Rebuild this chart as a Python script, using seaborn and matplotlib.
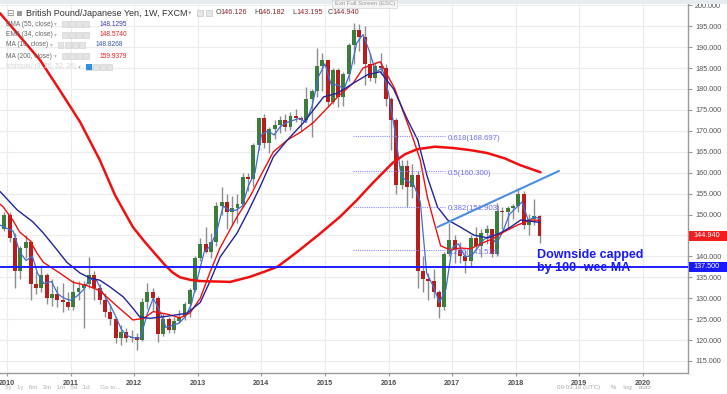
import numpy as np
import pandas as pd
import matplotlib
matplotlib.use('Agg')
import matplotlib.pyplot as plt
from matplotlib.patches import Rectangle
import seaborn as sns

# Monthly candles (GBP/JPY), Dec 2009 .. May 2018
months = pd.date_range('2009-12-01', '2018-05-01', freq='MS')
opens = [146.5,
         150.0, 144.5, 136.5, 142.0, 143.5, 133.5, 132.5, 135.5, 130.0, 131.0, 129.5, 129.0,
         127.8, 131.5, 132.5, 133.5, 135.5, 132.5, 129.5, 126.8, 125.0, 120.5, 122.0, 120.5,
         120.8, 120.0, 129.0, 131.5, 130.0, 121.5, 125.0, 122.5, 124.5, 125.5, 128.5, 132.0,
         139.5, 143.0, 141.0, 143.5, 152.0, 153.0, 150.5, 151.5, 152.5, 159.0, 158.5, 166.5,
         173.0, 167.0, 170.5, 171.5, 172.5, 171.0, 173.5, 173.0, 172.5, 177.5, 179.5, 185.5,
         186.8, 177.0, 184.5, 178.0, 183.5, 190.5, 194.0, 192.5, 186.0, 182.5, 185.5, 185.0,
         177.5, 172.5, 157.0, 161.5, 156.5, 159.5, 136.5, 134.5, 134.0, 131.5, 128.0, 140.5,
         144.0, 141.5, 140.0, 139.0, 144.5, 142.5, 145.5, 146.5, 140.5, 150.8, 150.5, 151.5,
         152.0, 155.0, 147.5, 149.0, 149.7]
highs = [150.6,
         150.5, 145.5, 142.5, 145.0, 144.0, 136.5, 137.9, 136.0, 134.5, 133.0, 133.6, 131.5,
         134.3, 134.0, 134.0, 139.8, 136.5, 133.5, 131.2, 128.5, 125.5, 123.5, 123.0, 122.5,
         121.6, 130.0, 133.6, 132.5, 130.5, 126.4, 125.5, 125.5, 127.2, 129.0, 132.5, 140.0,
         144.5, 147.0, 145.5, 153.0, 156.6, 155.0, 154.5, 155.0, 160.0, 159.8, 167.0, 173.3,
         174.0, 171.0, 172.5, 173.5, 174.0, 174.5, 175.2, 173.5, 180.5, 180.0, 189.8, 188.5,
         187.0, 185.0, 185.0, 184.0, 191.0, 195.8, 195.5, 195.0, 188.6, 186.5, 188.5, 186.0,
         178.0, 173.0, 163.0, 163.0, 162.0, 160.5, 140.0, 136.0, 137.0, 132.0, 141.0, 148.0,
         145.0, 143.5, 141.5, 145.0, 147.0, 146.5, 147.5, 146.5, 152.7, 151.8, 152.0, 152.5,
         156.3, 155.5, 150.2, 153.8, 150.0]
lows = [146.0,
        143.5, 132.5, 134.5, 139.5, 129.5, 131.0, 131.5, 128.5, 128.2, 127.8, 126.6, 127.2,
        127.3, 129.5, 122.8, 132.5, 129.5, 128.5, 125.5, 123.5, 119.3, 118.8, 119.5, 119.5,
        117.6, 119.8, 127.5, 127.0, 119.5, 121.0, 121.6, 121.8, 124.0, 124.8, 125.5, 131.5,
        139.0, 140.8, 139.5, 142.5, 150.0, 146.5, 147.5, 148.0, 152.0, 155.5, 156.5, 165.5,
        166.0, 164.7, 168.0, 169.5, 170.0, 170.2, 172.0, 170.0, 172.0, 168.5, 178.0, 179.5,
        175.8, 176.5, 175.7, 176.0, 182.0, 186.0, 189.0, 181.0, 182.0, 181.5, 183.5, 176.0,
        165.5, 155.0, 156.0, 151.8, 154.0, 132.5, 131.5, 129.5, 130.0, 125.2, 127.2, 140.0,
        138.5, 138.5, 136.0, 137.5, 141.5, 139.8, 143.0, 139.8, 140.2, 146.5, 146.5, 149.0,
        150.5, 146.5, 145.0, 147.5, 143.2]
closes = [150.0,
          144.5, 136.5, 142.0, 143.5, 133.5, 132.5, 135.5, 130.0, 131.0, 129.5, 129.0, 127.8,
          131.5, 132.5, 133.5, 135.5, 132.5, 129.5, 126.8, 125.0, 120.5, 122.0, 120.5, 120.8,
          120.0, 129.0, 131.5, 130.0, 121.5, 125.0, 122.5, 124.5, 125.5, 128.5, 132.0, 139.5,
          143.0, 141.0, 143.5, 152.0, 153.0, 150.5, 151.5, 152.5, 159.0, 158.5, 166.5, 173.0,
          167.0, 170.5, 171.5, 172.5, 171.0, 173.5, 173.0, 172.5, 177.5, 179.5, 185.5, 186.8,
          177.0, 184.5, 178.0, 183.5, 190.5, 194.0, 192.5, 186.0, 182.5, 185.5, 185.0, 177.5,
          172.5, 157.0, 161.5, 156.5, 159.5, 136.5, 134.5, 134.0, 131.5, 128.0, 140.5, 144.0,
          141.5, 140.0, 139.0, 144.5, 142.5, 145.5, 146.5, 140.5, 150.8, 150.5, 151.5, 152.0,
          155.0, 147.5, 149.0, 149.7, 144.94]

# Moving averages (decimal year, price)
ma200_t = [2009.89, 2010.20, 2010.52, 2010.83, 2011.15, 2011.46, 2011.70, 2011.98, 2012.17,
           2012.33, 2012.48, 2012.60, 2012.72, 2012.88, 2013.03, 2013.51, 2013.82, 2014.06,
           2014.25, 2014.42, 2014.60, 2014.92, 2015.24, 2015.50, 2015.75, 2016.07, 2016.26,
           2016.45, 2016.73, 2017.01, 2017.28, 2017.55, 2017.83, 2018.07, 2018.39]
ma200_v = [198.1, 192.6, 186.9, 179.7, 172.1, 163.0, 154.6, 147.0, 143.4,
           140.6, 138.0, 136.2, 135.0, 134.4, 134.1, 133.9, 135.1, 136.4,
           137.5, 139.4, 141.5, 145.4, 149.5, 153.4, 157.5, 162.4, 164.4,
           165.6, 166.2, 165.9, 165.4, 164.7, 163.4, 161.8, 160.1]

ema55_t = [2009.89, 2009.94, 2010.16, 2010.41, 2010.57, 2010.79, 2010.94, 2011.15, 2011.31,
           2011.46, 2011.62, 2011.83, 2011.98, 2012.09, 2012.25, 2012.52, 2012.83, 2013.04,
           2013.2, 2013.35, 2013.62, 2013.78, 2013.98, 2014.19, 2014.41, 2014.66, 2014.82,
           2014.98, 2015.2, 2015.45, 2015.67, 2015.87, 2016.08, 2016.3, 2016.46, 2016.61,
           2016.77, 2016.93, 2017.13, 2017.34, 2017.56, 2017.76, 2017.92, 2018.08, 2018.39]
ema55_v = [155.5, 154.7, 151.1, 148.2, 145.6, 141.5, 138.6, 136.0, 134.8,
           134.3, 132.7, 130.3, 127.6, 125.5, 125.2, 125.7, 126.4, 129.0,
           134.3, 139.8, 145.6, 150.3, 156.6, 163.8, 167.8, 171.9, 175.0,
           178.1, 179.0, 181.4, 183.4, 184.1, 180.0, 172.6, 167.8, 159.0,
           151.8, 148.7, 147.0, 145.1, 144.4, 145.6, 147.0, 148.7, 148.1]

ema34_t = [2009.89, 2009.94, 2010.09, 2010.2, 2010.36, 2010.47, 2010.57, 2010.83, 2011.04,
           2011.26, 2011.46, 2011.73, 2011.98, 2012.15, 2012.3, 2012.52, 2012.72, 2012.88,
           2013.04, 2013.2, 2013.35, 2013.62, 2013.83, 2013.98, 2014.19, 2014.41, 2014.62,
           2014.82, 2015.04, 2015.2, 2015.45, 2015.6, 2015.87, 2016.1, 2016.39, 2016.5,
           2016.61, 2016.72, 2016.82, 2016.98, 2017.13, 2017.29, 2017.45, 2017.65, 2017.81,
           2018.03, 2018.24, 2018.39]
ema34_v = [152.5, 151.8, 148.7, 145.8, 143.8, 140.8, 138.6, 136.0, 133.8,
           133.0, 131.8, 128.1, 124.8, 125.2, 126.8, 126.2, 125.3, 126.5,
           130.0, 136.5, 142.0, 149.5, 154.5, 159.0, 165.0, 167.8, 169.7,
           172.0, 175.5, 178.1, 181.5, 185.0, 186.5, 180.0, 168.0, 163.0,
           154.2, 148.0, 142.5, 141.5, 142.0, 141.8, 143.0, 144.3, 145.8,
           147.5, 148.7, 148.6]

ma10_t = [2009.89, 2009.95, 2010.1, 2010.2, 2010.3, 2010.4, 2010.48, 2010.58, 2010.7, 2010.8,
          2010.9, 2011.0, 2011.1, 2011.2, 2011.3, 2011.4, 2011.5, 2011.6, 2011.7, 2011.8,
          2011.9, 2012.0, 2012.1, 2012.2, 2012.3, 2012.4, 2012.5, 2012.6, 2012.7, 2012.8,
          2012.9, 2013.0, 2013.1, 2013.2, 2013.3, 2013.4, 2013.5, 2013.6, 2013.7, 2013.8,
          2013.9, 2014.0, 2014.1, 2014.2, 2014.3, 2014.4, 2014.5, 2014.6, 2014.7, 2014.8,
          2014.9, 2015.0, 2015.1, 2015.2, 2015.3, 2015.4, 2015.5, 2015.6, 2015.7, 2015.8,
          2015.9, 2016.0, 2016.1, 2016.2, 2016.3, 2016.4, 2016.5, 2016.6, 2016.7, 2016.8,
          2016.9, 2017.0, 2017.1, 2017.2, 2017.3, 2017.4, 2017.5, 2017.6, 2017.7, 2017.8,
          2017.9, 2018.0, 2018.1, 2018.2, 2018.3, 2018.39]
ma10_v = [147.5, 147.0, 146.0, 141.0, 139.0, 140.0, 136.0, 133.5, 134.0, 131.0,
          130.0, 129.5, 130.5, 132.0, 134.5, 134.5, 131.5, 129.0, 126.0, 122.5,
          121.0, 120.5, 120.5, 126.0, 130.0, 127.0, 123.0, 123.5, 124.0, 125.5,
          128.5, 135.0, 141.0, 142.5, 146.0, 152.0, 151.0, 151.0, 152.0, 157.0,
          160.0, 169.0, 170.0, 169.0, 171.0, 172.0, 172.5, 173.0, 172.0, 176.0,
          183.0, 186.0, 181.0, 181.0, 180.0, 184.0, 191.0, 193.0, 189.0, 184.0,
          185.0, 179.0, 170.0, 159.0, 158.0, 157.0, 153.0, 136.0, 133.0, 129.0,
          132.0, 142.0, 143.0, 140.0, 140.0, 142.0, 144.0, 145.0, 143.0, 146.0,
          150.0, 151.5, 153.0, 148.5, 149.5, 148.8]

trend_t = [2016.77, 2018.68]
trend_v = [147.0, 160.4]

fib_ratios = ['0.618', '0.5', '0.382', '0.236']
fib_levels = [168.697, 160.300, 151.903, 141.514]
support_level = 137.5
last_price = 144.94

legend_names = ['EMA (55, close)', 'EMA (34, close)', 'MA (10, close)', 'MA (200, close)',
                'Ichimoku (9, 26, 52, 26)']
legend_values = ['148.1295', '148.5740', '148.8268', '159.9379', '']
ohlc_text = [('O', '146.126'), ('H', '146.182'), ('L', '143.195'), ('C', '144.940')]

# ---- style ----
sns.set_style('whitegrid')
plt.rcParams['font.family'] = ['Liberation Sans', 'DejaVu Sans']

W, H = 727, 394
fig = plt.figure(figsize=(W / 100, H / 100), dpi=100)
fig.patch.set_facecolor('white')
ax = fig.add_axes([0, 21 / H, 688 / W, 369 / H])


def fx(x):
    return x / W


def fy(y):
    return 1 - y / H


c_up, c_dn, c_wick = '#3b7d3b', '#b81c1c', '#8e8e8e'
blue_navy, blue_ma10, red_line = '#23239a', '#3f6fd1', '#f01010'

t = months.year + (months.month - 0.5) / 12.0
o = np.array(opens)
c = np.array(closes)
up = c >= o

ax.vlines(t, lows, highs, color=c_wick, lw=1.0, zorder=2)
body_h = np.maximum(np.abs(c - o), 0.2)
ax.bar(t, body_h, bottom=np.minimum(o, c), width=0.062,
       color=[c_up if u else c_dn for u in up], linewidth=0, zorder=3)

sns.lineplot(x=ma10_t, y=ma10_v, ax=ax, color=blue_ma10, lw=0.9, sort=False, zorder=4)
sns.lineplot(x=ema34_t, y=ema34_v, ax=ax, color=red_line, lw=1.0, sort=False, zorder=4)
sns.lineplot(x=ema55_t, y=ema55_v, ax=ax, color=blue_navy, lw=1.0, sort=False, zorder=4)
sns.lineplot(x=ma200_t, y=ma200_v, ax=ax, color=red_line, lw=1.8, sort=False, zorder=5)
sns.lineplot(x=trend_t, y=trend_v, ax=ax, color='#4a8fe2', lw=1.5, sort=False, zorder=5)

ax.axhline(support_level, color='#1e1eff', lw=1.4, zorder=6)

for r, lv in zip(fib_ratios, fib_levels):
    ax.hlines(lv, 2015.44, 2016.89, colors='#8c8cff', linestyles=(0, (1, 1)), lw=0.8, zorder=4)
    ax.text(2016.93, lv + 0.3, f'{r}({lv:.3f})', color='#6e6ef0', fontsize=5.6,
            va='top', ha='left', zorder=6)

ax.set_xlim(2009.89, 2020.71)
ax.set_ylim(112.13, 200.3)
ax.set_xticks(range(2010, 2021))
ax.set_xticklabels([str(y) for y in range(2010, 2021)], fontsize=5.2,
                   fontweight='bold', color='#4d4d4d')
yt = np.arange(115, 201, 5)
ax.set_yticks(yt)
# the 145 label sits under the last-price box
ax.set_yticklabels(['' if v == 145 else f'{v:.3f}' for v in yt], fontsize=5.2, color='#555555')
ax.yaxis.tick_right()
ax.tick_params(axis='y', length=3, pad=2, color='#9a9a9a', right=True, left=False)
ax.tick_params(axis='x', length=2, pad=3, color='#9a9a9a', bottom=True)
ax.grid(True, color='#ececec', lw=0.8)
ax.set_xlabel('')
ax.set_ylabel('')
for side in ['left', 'top']:
    ax.spines[side].set_visible(False)
for side in ['right', 'bottom']:
    ax.spines[side].set_visible(True)
    ax.spines[side].set_color('#9a9a9a')
    ax.spines[side].set_linewidth(1.0)

# top gray strip
fig.patches.append(Rectangle((0, fy(4)), 1, 4 / H, transform=fig.transFigure,
                             facecolor='#e8ebef', edgecolor='none', zorder=0))

# right price labels
for lv, col, txt in [(last_price, '#f21d1d', '144.940'), (support_level, '#1a1aff', '137.500')]:
    ypx = 361 - (lv - 115) * 4.188
    fig.patches.append(Rectangle((fx(689), fy(ypx + 5)), fx(38), 10 / H,
                                 transform=fig.transFigure, facecolor=col,
                                 edgecolor='none', zorder=10))
    fig.text(fx(693), fy(ypx), txt, color='white', fontsize=5.2, va='center', ha='left', zorder=11)

# annotation
fig.text(fx(537), fy(255), 'Downside capped', color='#1a1aff', fontsize=9,
         fontweight='bold', va='center', ha='left', zorder=12)
fig.text(fx(537), fy(268), 'by 100 -wee MA', color='#1a1aff', fontsize=9,
         fontweight='bold', va='center', ha='left', zorder=12)

# header / legend block
fig.text(fx(6), fy(13), '\u229f', color='#888888', fontsize=6.5, va='center',
         family=['DejaVu Sans'])
fig.patches.append(Rectangle((fx(17), fy(16)), fx(5), 5 / H, transform=fig.transFigure,
                             facecolor='#9a9a9a', edgecolor='none'))
fig.text(fx(26), fy(13), 'British Pound/Japanese Yen, 1W, FXCM', color='#333333',
         fontsize=6.5, va='center')
fig.text(fx(188), fy(13), '\u25be', color='#aaaaaa', fontsize=5, va='center',
         family=['DejaVu Sans'])
for bx in [197, 206]:
    fig.patches.append(Rectangle((fx(bx), fy(16)), fx(6), 6 / H, transform=fig.transFigure,
                                 facecolor='#e6e6e6', edgecolor='#c8c8c8', lw=0.5))
ohlc_x = [216, 254, 292, 328]
for xp, (k, v) in zip(ohlc_x, ohlc_text):
    fig.text(fx(xp), fy(13), k, color='#444444', fontsize=5.2, va='center')
    fig.text(fx(xp + 4.5), fy(13), v, color='#8b2a2a', fontsize=5.2, va='center')

row_y = [24, 34.5, 45, 56, 66.5]
val_cols = ['#3a3ab5', '#ee2020', '#3a55b0', '#ee2020', '#ffffff']
for i, (name, val) in enumerate(zip(legend_names, legend_values)):
    yy = row_y[i]
    tcol = '#d6d6d6' if i == 4 else '#666666'
    fig.text(fx(6), fy(yy), name, color=tcol, fontsize=4.8, va='center')
    x0 = 62 if i != 2 else 58
    if i == 4:
        x0 = 86
    fig.text(fx(x0 - 8), fy(yy), '\u25be', color='#bbbbbb', fontsize=4, va='center',
             family=['DejaVu Sans'])
    for j in range(4):
        fig.patches.append(Rectangle((fx(x0 + 7 * j), fy(yy + 3)), fx(5.5), 5.5 / H,
                                     transform=fig.transFigure, facecolor='#e4e4e4',
                                     edgecolor='#cccccc', lw=0.4))
    if val:
        fig.text(fx(x0 + 38), fy(yy), val, color=val_cols[i], fontsize=4.8, va='center')
fig.patches.append(Rectangle((fx(86), fy(69.5)), fx(5.5), 5.5 / H, transform=fig.transFigure,
                             facecolor='#2f8fe0', edgecolor='none'))

# tooltip
fig.patches.append(Rectangle((fx(332), fy(8)), fx(65), 8 / H, transform=fig.transFigure,
                             facecolor='#f4f4f4', edgecolor='#d4d4d4', lw=0.5, zorder=9))
fig.text(fx(335), fy(4), 'Exit Full Screen (ESC)', color='#9a9a9a', fontsize=4.3,
         va='center', zorder=10)

# bottom toolbar
fig.text(fx(5), fy(388), '5y   1y   6m   3m   1m   5d   1d      Go to...', color='#b0b0b0',
         fontsize=4.5, va='center')
fig.text(fx(557), fy(388), '09:03:16 (UTC)      %    log    auto', color='#a8a8a8',
         fontsize=4.5, va='center')

fig.savefig('out.png', dpi=100)
